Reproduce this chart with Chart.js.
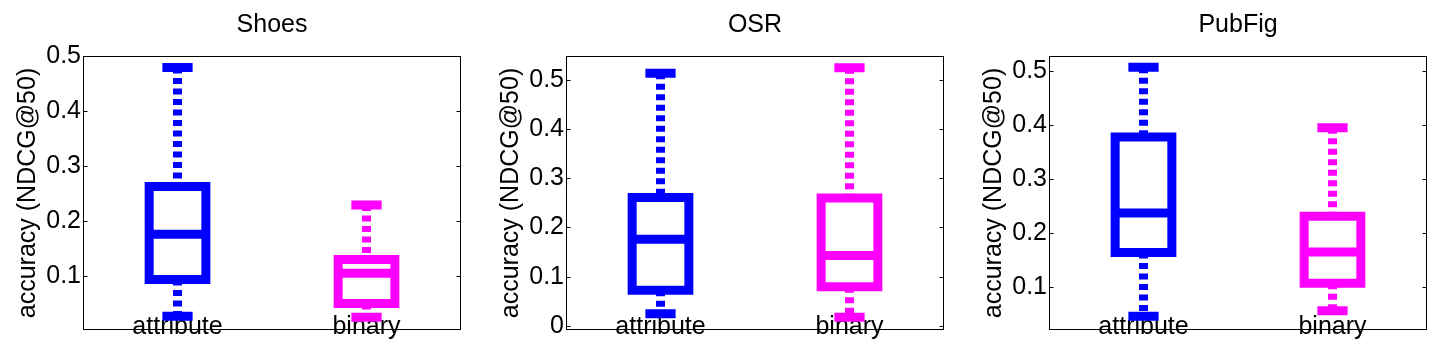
<!DOCTYPE html>
<html>
<head>
<meta charset="utf-8">
<script src="https://cdn.jsdelivr.net/npm/chart.js@4"></script>
<style>
  html, body { margin: 0; padding: 0; background: #fff; overflow: hidden; }
  .panel { position: absolute; top: 0; width: 483px; height: 346px; }
</style>
</head>
<body>
<div class="panel" style="left:0px"><canvas id="c0" width="483" height="346"></canvas></div>
<div class="panel" style="left:483px"><canvas id="c1" width="483" height="346"></canvas></div>
<div class="panel" style="left:966px"><canvas id="c2" width="483" height="346"></canvas></div>
<script>
'use strict';

// [min, q1, median, q3, max] per group
const groups = ['attribute', 'binary'];
const titles = ['Shoes', 'OSR', 'PubFig'];

const shoesAttribute = [0.027, 0.094, 0.176, 0.263, 0.479];
const shoesBinary = [0.025, 0.050, 0.105, 0.130, 0.229];
const osrAttribute = [0.025, 0.0725, 0.176, 0.261, 0.513];
const osrBinary = [0.018, 0.080, 0.143, 0.260, 0.524];
const pubfigAttribute = [0.046, 0.164, 0.237, 0.378, 0.507];
const pubfigBinary = [0.056, 0.107, 0.165, 0.231, 0.395];

const shoesTicks = [0.1, 0.2, 0.3, 0.4, 0.5];
const osrTicks = [0, 0.1, 0.2, 0.3, 0.4, 0.5];
const pubfigTicks = [0.1, 0.2, 0.3, 0.4, 0.5];

const shoesRange = [0.002, 0.5];
const osrRange = [-0.008, 0.548];
const pubfigRange = [0.0205, 0.528];

const colors = ['#0000ff', '#ff00ff'];
const FONT = 'Liberation Sans, Arial, Helvetica, sans-serif';

Chart.defaults.color = '#000';
Chart.defaults.font.family = FONT;

const boxHalf = 0.15;
const capHalf = 0.08;

function boxSets(stats, pos, color) {
  const [lo, q1, med, q3, hi] = stats;
  const gap = { x: pos, y: null };
  const solid = [
    { x: pos - boxHalf, y: q1 }, { x: pos + boxHalf, y: q1 },
    { x: pos + boxHalf, y: q3 }, { x: pos - boxHalf, y: q3 },
    { x: pos - boxHalf, y: q1 }, { x: pos + boxHalf, y: q1 },
    gap,
    { x: pos - boxHalf, y: med }, { x: pos + boxHalf, y: med },
    gap,
    { x: pos - capHalf, y: hi }, { x: pos + capHalf, y: hi },
    gap,
    { x: pos - capHalf, y: lo }, { x: pos + capHalf, y: lo }
  ];
  const dashed = [
    { x: pos, y: hi }, { x: pos, y: q3 },
    gap,
    { x: pos, y: q1 }, { x: pos, y: lo }
  ];
  const common = {
    borderColor: color,
    borderWidth: 9,
    pointRadius: 0,
    borderCapStyle: 'butt',
    borderJoinStyle: 'miter',
    spanGaps: false,
    tension: 0
  };
  return [
    Object.assign({ data: solid, order: 1 }, common),
    Object.assign({ data: dashed, order: 2, borderDash: [6, 4.5] }, common)
  ];
}

const frame = {
  id: 'frame',
  afterDraw(chart) {
    const { ctx, chartArea: a } = chart;
    const y = chart.scales.y;
    ctx.save();
    ctx.strokeStyle = '#000';
    ctx.lineWidth = 1;
    const l = Math.round(a.left) + 0.5, r = Math.round(a.right) - 0.5;
    const t = Math.round(a.top) + 0.5, b = Math.round(a.bottom) - 0.5;
    ctx.strokeRect(l, t, r - l, b - t);
    ctx.beginPath();
    y.ticks.forEach(tk => {
      const py = Math.round(y.getPixelForValue(tk.value)) + 0.5;
      ctx.moveTo(l, py); ctx.lineTo(l + 4, py);
      ctx.moveTo(r, py); ctx.lineTo(r - 4, py);
    });
    ctx.stroke();
    ctx.restore();
  }
};

function makePanel(id, title, attr, bin, range, ticks) {
  const datasets = [
    ...boxSets(attr, 1, colors[0]),
    ...boxSets(bin, 2, colors[1])
  ];
  new Chart(document.getElementById(id), {
    type: 'line',
    data: { datasets },
    options: {
      responsive: false,
      animation: false,
      layout: { padding: { left: 0, right: 22, top: 0, bottom: 0 } },
      plugins: {
        legend: { display: false },
        tooltip: { enabled: false },
        title: {
          display: true,
          text: title,
          fullSize: false,
          font: { size: 25, weight: 'normal', lineHeight: 1 },
          padding: { top: 12.5, bottom: 18.5 }
        }
      },
      scales: {
        x: {
          type: 'linear',
          min: 0.5,
          max: 2.5,
          z: 1,
          grid: { display: false, drawTicks: false },
          border: { display: false },
          afterBuildTicks: s => { s.ticks = groups.map((g, i) => ({ value: i + 1 })); },
          afterFit: s => { s.height = 16; },
          ticks: {
            autoSkip: false,
            maxRotation: 0,
            mirror: true,
            padding: -10,
            font: { size: 25, lineHeight: 1 },
            callback: (v, i) => groups[i]
          }
        },
        y: {
          type: 'linear',
          min: range[0],
          max: range[1],
          grid: { display: false, drawTicks: false },
          border: { display: false },
          afterBuildTicks: s => { s.ticks = ticks.map(v => ({ value: v })); },
          afterFit: s => { s.width = 83; },
          ticks: {
            padding: 2,
            font: { size: 25, lineHeight: 1 },
            callback: v => String(v)
          },
          title: {
            display: true,
            text: 'accuracy (NDCG@50)',
            font: { size: 25, lineHeight: 1 },
            padding: { top: 15.5, bottom: 0 }
          }
        }
      }
    },
    plugins: [frame]
  });
}

makePanel('c0', titles[0], shoesAttribute, shoesBinary, shoesRange, shoesTicks);
makePanel('c1', titles[1], osrAttribute, osrBinary, osrRange, osrTicks);
makePanel('c2', titles[2], pubfigAttribute, pubfigBinary, pubfigRange, pubfigTicks);
</script>
</body>
</html>
